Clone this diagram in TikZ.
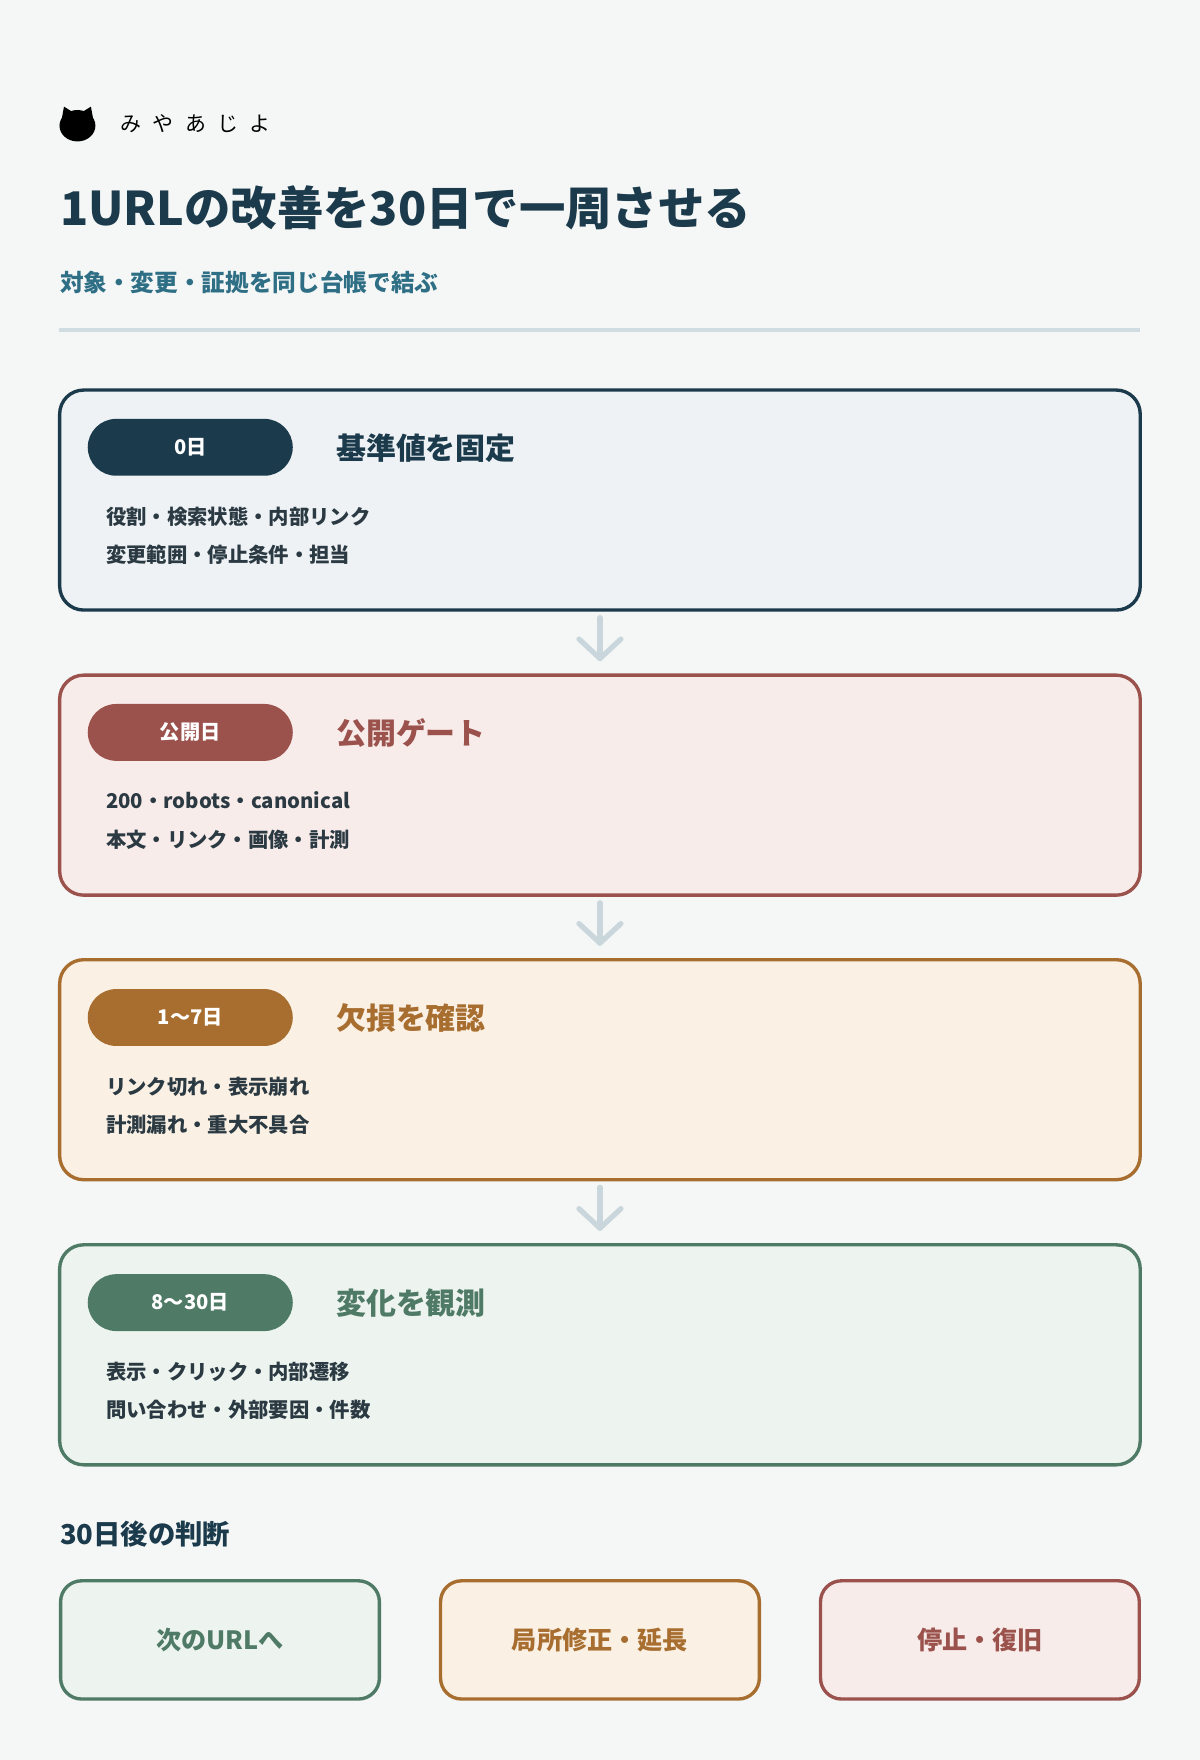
\documentclass[tikz,border=0pt]{standalone}
\usepackage{fontspec}
\setmainfont{Noto Sans CJK JP}
\usetikzlibrary{positioning}
\definecolor{bgc}{HTML}{F5F7F6}
\definecolor{navy}{HTML}{1B3A4B}
\definecolor{rust}{HTML}{9B524C}
\definecolor{ochre}{HTML}{A86E30}
\definecolor{sage}{HTML}{4F7A66}
\definecolor{navyf}{HTML}{EEF2F5}
\definecolor{rustf}{HTML}{F8ECEA}
\definecolor{ochref}{HTML}{FAF0E4}
\definecolor{sagef}{HTML}{EDF4EF}
\definecolor{subc}{HTML}{2F6F86}
\definecolor{rulec}{HTML}{CFDDE2}
\definecolor{arrc}{HTML}{C9D6DC}
\definecolor{bodyc}{HTML}{2B3A42}
\tikzset{every picture/.style={line width=0.75pt}}
\tikzset{
  phase/.style={draw=#1, fill=#1f, line width=2.25pt, rounded corners=16pt, minimum width=722pt, minimum height=147pt, inner sep=0pt},
  pill/.style={fill=#1, text=white, rounded corners=19pt, minimum width=137pt, minimum height=38pt, inner sep=0pt, font=\fontsize{13.5}{15}\selectfont\bfseries},
  phtitle/.style={text=#1, anchor=west, inner sep=0pt, font=\fontsize{20}{23}\selectfont\bfseries},
  body/.style={text=bodyc, anchor=west, inner sep=0pt, align=left, font=\fontsize{13.6}{25.5}\selectfont\bfseries},
  choice/.style={draw=#1, fill=#1f, text=#1, line width=2.25pt, rounded corners=14pt, minimum width=213pt, minimum height=79pt, inner sep=0pt, font=\fontsize{16.8}{19}\selectfont\bfseries},
  flow/.style={arrc, line width=3.5pt, line cap=round, line join=round}
}
\begin{document}
\begin{tikzpicture}[x=0.75pt,y=0.75pt,yscale=-1,xscale=1]
\fill[bgc] (0,0) rectangle (1069,1568);
\useasboundingbox (0,0) rectangle (1069,1568);

% logo
\fill[black] (69,112) ellipse [x radius=16, y radius=14];
\fill[black] (55,106) -- (57,95) -- (65,100) -- cycle;
\fill[black] (83,106) -- (81,95) -- (73,100) -- cycle;
\node (brand) [anchor=west, inner sep=0pt, font=\fontsize{14}{16}\selectfont] at (107,110) {み\hspace{7.5pt}や\hspace{7.5pt}あ\hspace{7.5pt}じ\hspace{7.5pt}よ};

% heading
\node (title) [anchor=west, inner sep=0pt, text=navy, font=\fontsize{31}{36}\selectfont\bfseries] at (53,185) {1URLの改善を30日で一周させる};
\node (sub) [anchor=west, inner sep=0pt, text=subc, font=\fontsize{15.8}{18}\selectfont\bfseries] at (53,252) {対象・変更・証拠を同じ台帳で結ぶ};
\draw[rulec, line width=2.25pt] (53,294) -- (1016,294);

% phases
\node (p0) [phase=navy] at (534.5,445.5) {};
\node (p1) [phase=rust] at (534.5,699.5) {};
\node (p2) [phase=ochre] at (534.5,953) {};
\node (p3) [phase=sage] at (534.5,1207) {};

\node (k0) [pill=navy] at (169.5,398.5) {0日};
\node (k1) [pill=rust] at (169.5,652.5) {公開日};
\node (k2) [pill=ochre] at (169.5,906.5) {1〜7日};
\node (k3) [pill=sage] at (169.5,1160.5) {8〜30日};

\node (t0) [phtitle=navy] at (299,399) {基準値を固定};
\node (t1) [phtitle=rust] at (299,653) {公開ゲート};
\node (t2) [phtitle=ochre] at (299,907) {欠損を確認};
\node (t3) [phtitle=sage] at (299,1161) {変化を観測};

\node (b0) [body] at (94,477) {役割・検索状態・内部リンク\\変更範囲・停止条件・担当};
\node (b1) [body] at (94,731) {200・robots・canonical\\本文・リンク・画像・計測};
\node (b2) [body] at (94,985) {リンク切れ・表示崩れ\\計測漏れ・重大不具合};
\node (b3) [body] at (94,1239) {表示・クリック・内部遷移\\問い合わせ・外部要因・件数};

% connectors
\foreach \a/\b in {p0/p1, p1/p2, p2/p3}{
  \draw[flow] ([yshift=4pt]\a.south) -- ([yshift=-10pt]\b.north);
  \draw[flow] ([xshift=-14pt,yshift=-23pt]\b.north) -- ([yshift=-10pt]\b.north) -- ([xshift=14pt,yshift=-23pt]\b.north);
}

% decision
\node (dec) [anchor=west, inner sep=0pt, text=navy, font=\fontsize{18.3}{21}\selectfont\bfseries] at (53,1367) {30日後の判断};
\node (c0) [choice=sage] at (196,1461) {次のURLへ};
\node (c1) [choice=ochre] at (534.5,1461) {局所修正・延長};
\node (c2) [choice=rust] at (873,1461) {停止・復旧};
\end{tikzpicture}
\end{document}
